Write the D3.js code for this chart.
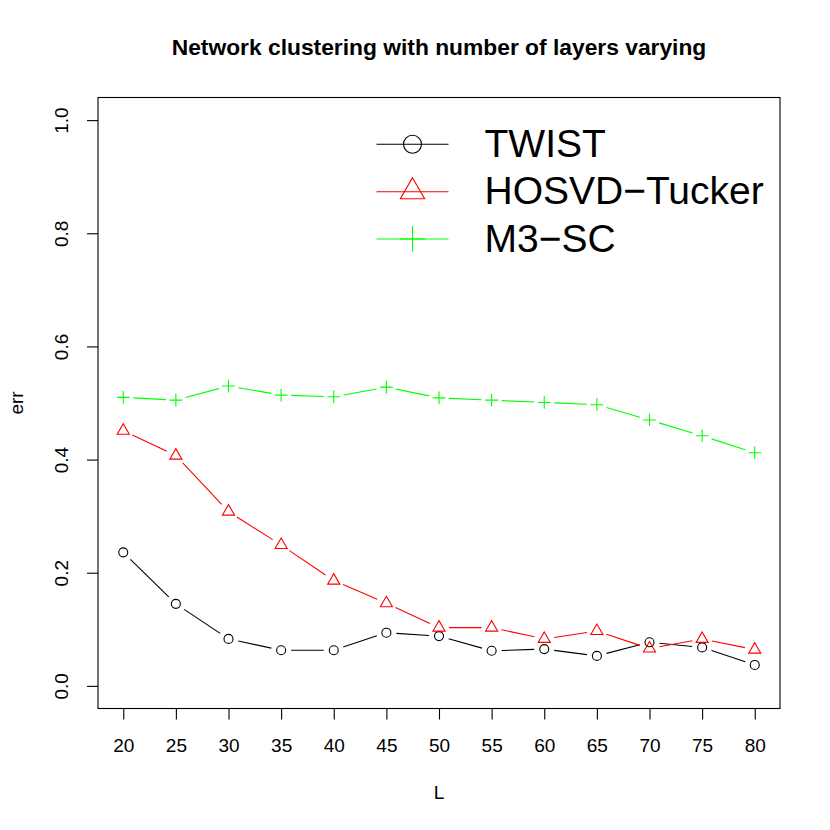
<!DOCTYPE html>
<html>
<head>
<meta charset="utf-8">
<script src="https://cdn.jsdelivr.net/npm/d3@7"></script>
<style>
html, body { margin: 0; padding: 0; background: #fff; }
text { font-family: "Liberation Sans", Arial, Helvetica, sans-serif; }
</style>
</head>
<body>
<svg id="chart" width="830" height="830"></svg>
<script>
// ---- data ----
const layers = [20, 25, 30, 35, 40, 45, 50, 55, 60, 65, 70, 75, 80];
const twist = [0.236, 0.145, 0.083, 0.063, 0.063, 0.094, 0.088, 0.062, 0.065, 0.053, 0.077, 0.068, 0.037];
const hosvdTucker = [0.451, 0.407, 0.308, 0.249, 0.186, 0.146, 0.103, 0.103, 0.083, 0.097, 0.066, 0.083, 0.064];
const m3sc = [0.510, 0.505, 0.530, 0.514, 0.511, 0.528, 0.509, 0.505, 0.501, 0.497, 0.470, 0.442, 0.412];
const xTicks = [20, 25, 30, 35, 40, 45, 50, 55, 60, 65, 70, 75, 80];
const yTicks = [0.0, 0.2, 0.4, 0.6, 0.8, 1.0];
const seriesNames = ["TWIST", "HOSVD\u2212Tucker", "M3\u2212SC"];
const seriesColors = ["#000000", "#ff0000", "#00ff00"];
const seriesShapes = ["circle", "triangle", "plus"];
const titleText = "Network clustering with number of layers varying";
const xLabel = "L";
const yLabel = "err";

// ---- layout ----
const svg = d3.select("#chart");
const plot = { left: 98, right: 780, top: 97.5, bottom: 708.5 };
const x = d3.scaleLinear().domain([17.6, 82.4]).range([plot.left, plot.right]);
const y = d3.scaleLinear().domain([-0.04, 1.04]).range([plot.bottom, plot.top]);
const base = 19;

svg.append("rect").attr("width", 830).attr("height", 830).attr("fill", "#fff");

// symbols
function drawSymbol(g, shape, cx, cy, s, color) {
  if (shape === "circle") {
    g.append("circle").attr("cx", cx).attr("cy", cy).attr("r", s)
      .attr("fill", "none").attr("stroke", color).attr("stroke-width", 1.1);
  } else if (shape === "triangle") {
    const r = 1.55512 * s, yc = 0.77756 * s, xc = 1.34677 * s;
    g.append("path")
      .attr("d", `M${cx},${cy - r}L${cx + xc},${cy + yc}L${cx - xc},${cy + yc}Z`)
      .attr("fill", "none").attr("stroke", color).attr("stroke-width", 1.1);
  } else {
    const h = Math.SQRT2 * s;
    g.append("path")
      .attr("d", `M${cx - h},${cy}L${cx + h},${cy}M${cx},${cy - h}L${cx},${cy + h}`)
      .attr("fill", "none").attr("stroke", color).attr("stroke-width", 1.1);
  }
}

const allSeries = [twist, hosvdTucker, m3sc];
const symSize = 4.5;
const gap = 10;

allSeries.forEach((vals, si) => {
  const g = svg.append("g");
  const pts = layers.map((L, i) => [x(L), y(vals[i])]);
  // type "b": segments with gaps around points
  for (let i = 0; i < pts.length - 1; i++) {
    const [x0, y0] = pts[i], [x1, y1] = pts[i + 1];
    const dx = x1 - x0, dy = y1 - y0, len = Math.hypot(dx, dy);
    if (len <= 2 * gap) continue;
    const ux = dx / len, uy = dy / len;
    g.append("line")
      .attr("x1", x0 + ux * gap).attr("y1", y0 + uy * gap)
      .attr("x2", x1 - ux * gap).attr("y2", y1 - uy * gap)
      .attr("stroke", seriesColors[si]).attr("stroke-width", 1.1);
  }
  pts.forEach(([px, py]) => drawSymbol(g, seriesShapes[si], px, py, symSize, seriesColors[si]));
});

// box
svg.append("rect")
  .attr("x", plot.left).attr("y", plot.top)
  .attr("width", plot.right - plot.left).attr("height", plot.bottom - plot.top)
  .attr("fill", "none").attr("stroke", "#000").attr("stroke-width", 1.1);

// x axis
const xAxis = svg.append("g").attr("transform", `translate(0,${plot.bottom})`)
  .call(d3.axisBottom(x).tickValues(xTicks).tickSize(11).tickSizeOuter(0).tickFormat(d3.format("d")));
xAxis.select(".domain").remove();
xAxis.selectAll(".tick line").attr("stroke", "#000").attr("stroke-width", 1.1);
xAxis.selectAll(".tick text")
  .attr("y", 43).attr("dy", 0)
  .attr("fill", "#000")
  .style("font-family", '"Liberation Sans", Arial, sans-serif')
  .style("font-size", base + "px");

// y axis
const yAxis = svg.append("g").attr("transform", `translate(${plot.left},0)`)
  .call(d3.axisLeft(y).tickValues(yTicks).tickSize(11).tickSizeOuter(0).tickFormat(d3.format(".1f")));
yAxis.select(".domain").remove();
yAxis.selectAll(".tick line").attr("stroke", "#000").attr("stroke-width", 1.1);
yAxis.selectAll(".tick text")
  .attr("transform", "rotate(-90)")
  .attr("x", 0).attr("y", -30).attr("dy", 0)
  .attr("text-anchor", "middle")
  .attr("fill", "#000")
  .style("font-family", '"Liberation Sans", Arial, sans-serif')
  .style("font-size", base + "px");

// title and axis labels
svg.append("text")
  .attr("x", (plot.left + plot.right) / 2).attr("y", 55)
  .attr("text-anchor", "middle")
  .style("font-weight", "bold").style("font-size", (base * 1.2) + "px")
  .text(titleText);

svg.append("text")
  .attr("x", (plot.left + plot.right) / 2).attr("y", 799)
  .attr("text-anchor", "middle")
  .style("font-size", base + "px")
  .text(xLabel);

svg.append("text")
  .attr("transform", `translate(23,${(plot.top + plot.bottom) / 2}) rotate(-90)`)
  .attr("text-anchor", "middle")
  .style("font-size", base + "px")
  .text(yLabel);

// legend
const legend = svg.append("g");
const legRows = [144.3, 191.7, 239];
seriesNames.forEach((name, i) => {
  const cy = legRows[i];
  legend.append("line")
    .attr("x1", 376.5).attr("x2", 448.5).attr("y1", cy).attr("y2", cy)
    .attr("stroke", seriesColors[i]).attr("stroke-width", 1.1);
  drawSymbol(legend, seriesShapes[i], 412.5, cy, 9, seriesColors[i]);
  legend.append("text")
    .attr("x", 484.5).attr("y", cy + 12.5)
    .style("font-size", "39px")
    .attr("fill", "#000")
    .text(name);
});
</script>
</body>
</html>
